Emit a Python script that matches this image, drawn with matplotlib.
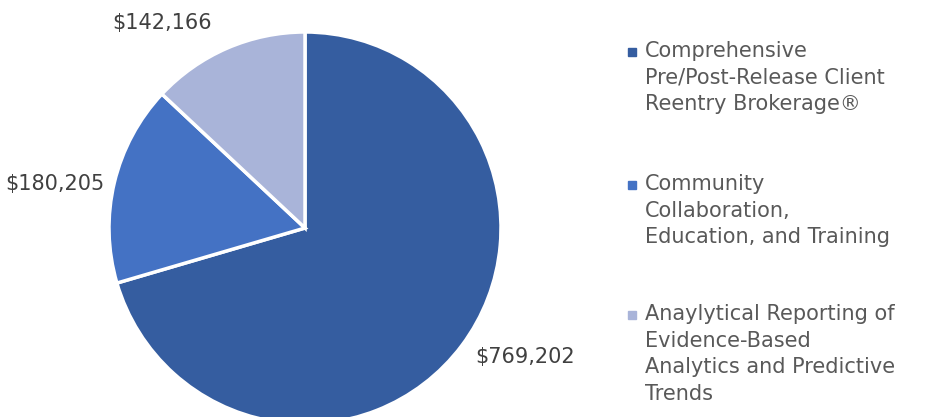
import numpy as np
import matplotlib.pyplot as plt
from matplotlib.patches import Rectangle

names = ["Comprehensive\nPre/Post-Release Client\nReentry Brokerage®",
         "Community\nCollaboration,\nEducation, and Training",
         "Anaylytical Reporting of\nEvidence-Based\nAnalytics and Predictive\nTrends"]
values = [769202, 180205, 142166]
colors = ["#355da0", "#4472c4", "#a9b4d9"]

fig = plt.figure(figsize=(9.27, 4.17), dpi=100)
ax = fig.add_axes([0, 0, 1, 1])

cx, cy, r = 305, 189, 196
wedges, _ = ax.pie(values, colors=colors, startangle=90, counterclock=False,
                   center=(cx, cy), radius=r, frame=True,
                   wedgeprops=dict(edgecolor='white', linewidth=2.5))
ax.set_xlim(0, 927)
ax.set_ylim(0, 417)
ax.set_aspect('equal')
ax.axis('off')

lab_offset = [(4, -4), (2, -4), (-10, 14)]
for w, v, off in zip(wedges, values, lab_offset):
    ang = np.deg2rad((w.theta1 + w.theta2) / 2)
    x = cx + r * 1.06 * np.cos(ang) + off[0]
    y = cy + r * 1.06 * np.sin(ang) + off[1]
    ax.text(x, y, "${:,}".format(v), ha='left' if np.cos(ang) > 0 else 'right',
            va='center', fontsize=15, color='#404040')

# legend, marker lined up with first line of each entry
line_px = [52, 185, 315]
for name, c, yl in zip(names, colors, line_px):
    fig.patches.append(Rectangle((628 / 927, (417 - yl - 4) / 417), 8 / 927, 8 / 417,
                                 color=c, transform=fig.transFigure))
    fig.text(645 / 927, 1 - (yl - 11) / 417, name, ha='left', va='top', fontsize=15,
             color='#595959', linespacing=1.42)

fig.savefig("out.png", dpi=100)
